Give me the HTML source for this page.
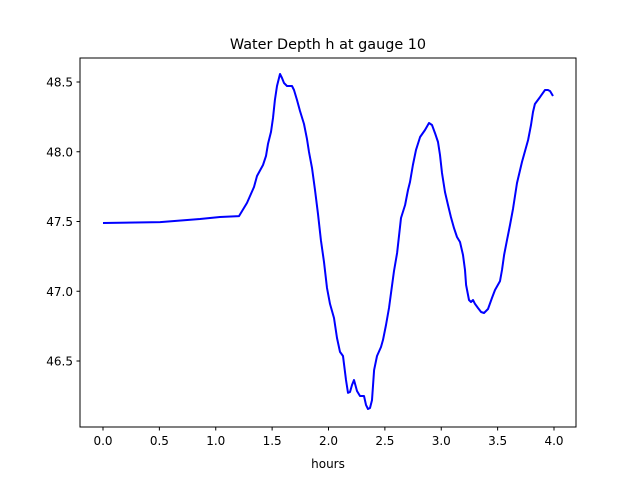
<!DOCTYPE html>
<html><head><meta charset="utf-8"><style>
body{margin:0;background:#fff}
svg{display:block;font-family:"DejaVu Sans","Liberation Sans",sans-serif}
</style></head><body>
<svg id="chart" width="640" height="480">
<rect x="0" y="0" width="640" height="480" fill="#fff"/>
<text x="328" y="49" font-size="14.4" text-anchor="middle">Water Depth h at gauge 10</text>
<text x="328" y="468" font-size="12" text-anchor="middle">hours</text>
<g id="xticks"></g>
<g id="yticks"></g>
<path id="line" fill="none" stroke="#0000ff" stroke-width="2" stroke-linejoin="round"/>
<rect x="80" y="58" width="496" height="369" fill="none" stroke="#000" stroke-width="1"/>
</svg>
<script>
const hours=[0,0.506,0.860,1.038,1.206,1.277,1.339,1.366,1.419,1.446,1.463,1.490,1.508,1.525,1.543,1.570,1.588,1.605,1.632,1.676,1.694,1.721,1.747,1.783,1.809,1.827,1.854,1.880,1.907,1.933,1.960,1.987,2.013,2.049,2.075,2.102,2.129,2.155,2.173,2.191,2.208,2.226,2.253,2.279,2.315,2.333,2.350,2.368,2.386,2.404,2.430,2.466,2.483,2.510,2.537,2.554,2.581,2.608,2.643,2.679,2.705,2.723,2.749,2.776,2.812,2.856,2.891,2.918,2.945,2.971,2.989,3.007,3.033,3.060,3.086,3.113,3.140,3.166,3.193,3.211,3.220,3.246,3.264,3.282,3.299,3.326,3.353,3.379,3.415,3.450,3.477,3.521,3.539,3.557,3.583,3.610,3.636,3.672,3.716,3.743,3.770,3.796,3.814,3.831,3.876,3.920,3.947,3.965,3.991];
const depth=[47.489,47.496,47.518,47.532,47.539,47.633,47.747,47.826,47.905,47.970,48.056,48.142,48.242,48.371,48.471,48.557,48.529,48.493,48.471,48.471,48.443,48.371,48.292,48.199,48.091,47.998,47.884,47.726,47.554,47.367,47.210,47.023,46.909,46.808,46.665,46.565,46.536,46.364,46.271,46.278,46.328,46.364,46.285,46.249,46.249,46.185,46.156,46.163,46.220,46.435,46.536,46.600,46.651,46.758,46.880,46.987,47.145,47.274,47.525,47.618,47.726,47.783,47.905,48.013,48.106,48.156,48.206,48.192,48.134,48.070,47.977,47.848,47.711,47.618,47.532,47.453,47.389,47.353,47.260,47.152,47.045,46.937,46.923,46.937,46.909,46.880,46.851,46.844,46.873,46.952,47.009,47.073,47.152,47.260,47.367,47.475,47.590,47.776,47.927,48.005,48.084,48.192,48.285,48.342,48.392,48.443,48.443,48.435,48.400];
const xTicks=[0,0.5,1,1.5,2,2.5,3,3.5,4];
const xTickLabels=["0.0","0.5","1.0","1.5","2.0","2.5","3.0","3.5","4.0"];
const yTicks=[46.5,47,47.5,48,48.5];
const yTickLabels=["46.5","47.0","47.5","48.0","48.5"];
const X=h=>103+h*112.75;
const Y=v=>82+(48.5-v)*139.5;
const NS="http://www.w3.org/2000/svg";
const xg=document.getElementById('xticks'), yg=document.getElementById('yticks');
xTicks.forEach((t,i)=>{
  const l=document.createElementNS(NS,'line');
  l.setAttribute('x1',X(t));l.setAttribute('x2',X(t));l.setAttribute('y1',427);l.setAttribute('y2',430.5);l.setAttribute('stroke','#000');
  
  
  xg.appendChild(l);
  const tx=document.createElementNS(NS,'text');
  tx.setAttribute('x',X(t));tx.setAttribute('y',445);tx.setAttribute('font-size','12');tx.setAttribute('text-anchor','middle');
  tx.textContent=xTickLabels[i];
  
  
  xg.appendChild(tx);
});
yTicks.forEach((t,i)=>{
  const l=document.createElementNS(NS,'line');
  l.setAttribute('x1',76.5);l.setAttribute('x2',80);l.setAttribute('y1',Y(t));l.setAttribute('y2',Y(t));l.setAttribute('stroke','#000');
  
  
  yg.appendChild(l);
  const tx=document.createElementNS(NS,'text');
  tx.setAttribute('x',73);tx.setAttribute('y',Y(t)+4.5);tx.setAttribute('font-size','12');tx.setAttribute('text-anchor','end');
  tx.textContent=yTickLabels[i];
  
  
  yg.appendChild(tx);
});
document.getElementById('line').setAttribute('d',hours.map((h,i)=>(i?'L':'M')+X(h).toFixed(1)+','+Y(depth[i]).toFixed(1)).join(''));
</script>
</body></html>
